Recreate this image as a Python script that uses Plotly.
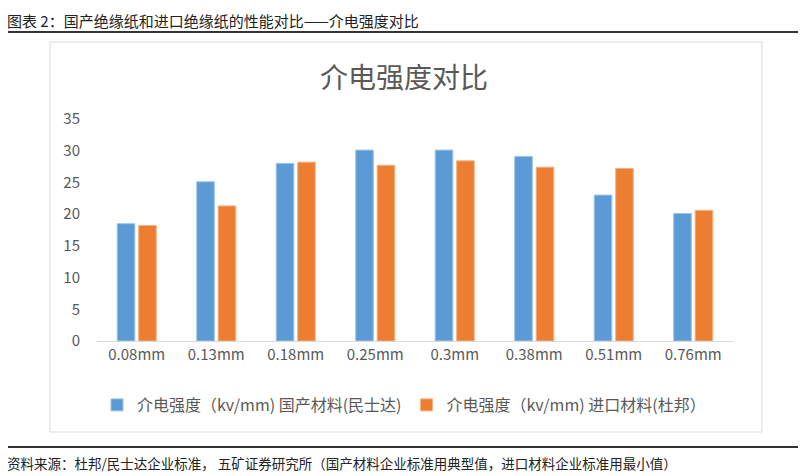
import plotly.graph_objects as go

categories = ["0.08mm", "0.13mm", "0.18mm", "0.25mm", "0.3mm", "0.38mm", "0.51mm", "0.76mm"]
domestic = [18.5, 25.1, 28.0, 30.1, 30.1, 29.1, 23.0, 20.1]
imported = [18.2, 21.3, 28.2, 27.7, 28.4, 27.4, 27.2, 20.6]
name_domestic = "介电强度（kv/mm) 国产材料(民士达)"
name_imported = "介电强度（kv/mm) 进口材料(杜邦）"
y_ticks = [0, 5, 10, 15, 20, 25, 30, 35]

FONT = "Noto Sans CJK SC"
GRAY = "#595959"

fig = go.Figure()
fig.add_trace(go.Bar(x=categories, y=domestic, name=name_domestic,
                     marker=dict(color="#5B9BD5", line=dict(color="#9DC3E6", width=1))))
fig.add_trace(go.Bar(x=categories, y=imported, name=name_imported,
                     marker=dict(color="#ED7D31", line=dict(color="#F4B183", width=1))))

# page body has an 8px margin; work in reference pixel coords and offset
OFF = 8
W, H = 806 - OFF, 476 - OFF
L, R, T, B = 97 - OFF, 806 - 733, 119 - OFF, 476 - 341
pw, ph = W - L - R, H - T - B

def px(x):
    return (x - OFF - L) / pw

def py(y):
    return (H - B - (y - OFF)) / ph

fig.update_layout(
    width=W, height=H,
    margin=dict(l=L, r=R, t=T, b=B, pad=0, autoexpand=False),
    paper_bgcolor="white", plot_bgcolor="white",
    barmode="group", bargap=0.46, bargroupgap=0.18,
    font=dict(family=FONT, color=GRAY, size=15),
    showlegend=True,
    legend=dict(orientation="h", x=px(404), xanchor="center",
                y=py(405), yanchor="middle",
                font=dict(size=16, color=GRAY), itemwidth=30, traceorder="normal"),
    xaxis=dict(showline=True, linecolor="#D9D9D9", linewidth=1, ticks="",
               tickfont=dict(size=15, color=GRAY), showgrid=False),
    yaxis=dict(range=[0, 35], tickvals=y_ticks, showgrid=False, zeroline=False,
               showline=False, tickfont=dict(size=15, color=GRAY), ticklabelstandoff=16),
    shapes=[
        dict(type="rect", xref="paper", yref="paper", x0=px(50), x1=px(762), y0=py(432), y1=py(42),
             line=dict(color="#D9D9D9", width=1), fillcolor="rgba(0,0,0,0)", layer="below"),
        dict(type="line", xref="paper", yref="paper", x0=px(5), x1=px(801), y0=py(32), y1=py(32),
             line=dict(color="#333333", width=2)),
        dict(type="line", xref="paper", yref="paper", x0=px(5), x1=px(801), y0=py(447), y1=py(447),
             line=dict(color="#333333", width=2)),
    ],
    annotations=[
        dict(text="图表 2：国产绝缘纸和进口绝缘纸的性能对比——介电强度对比", xref="paper", yref="paper",
             x=px(5), y=py(8), xanchor="left", yanchor="top", showarrow=False,
             font=dict(size=15, color="#222222", family=FONT)),
        dict(text="介电强度对比", xref="paper", yref="paper", x=px(404), y=py(76),
             xanchor="center", yanchor="middle", showarrow=False,
             font=dict(size=28, color=GRAY, family=FONT)),
        dict(text="资料来源：杜邦/民士达企业标准， 五矿证券研究所（国产材料企业标准用典型值，进口材料企业标准用最小值）",
             xref="paper", yref="paper", x=px(5), y=py(463), xanchor="left", yanchor="middle",
             showarrow=False, font=dict(size=13.5, color="#222222", family=FONT)),
    ],
)

fig.write_html("out.html")
